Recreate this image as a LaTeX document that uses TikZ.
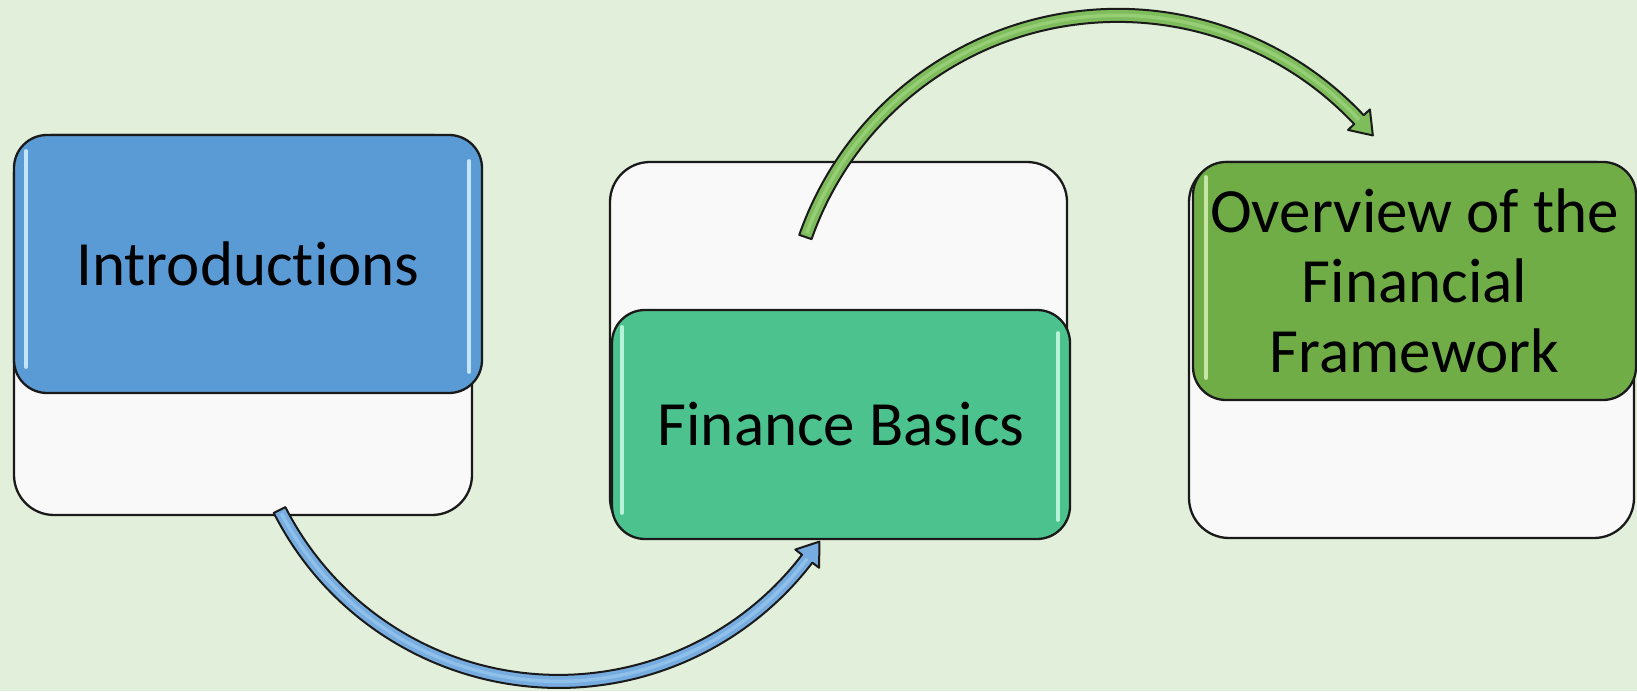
\documentclass[tikz,border=0pt]{standalone}
\usepackage{fontspec}
\setmainfont{Carlito}[Ligatures={NoCommon,NoContextual}]
\usetikzlibrary{calc}

\definecolor{bg}{HTML}{E2EFDA}
\definecolor{paper}{HTML}{F9F9F9}
\definecolor{outline}{HTML}{1A1A1A}
\definecolor{stepblue}{HTML}{5B9BD5}
\definecolor{stepteal}{HTML}{4CC38E}
\definecolor{stepgreen}{HTML}{70AD47}
\definecolor{glossblue}{HTML}{C4E4FA}
\definecolor{glossteal}{HTML}{B6F2D8}
\definecolor{glossgreen}{HTML}{C6E6A6}
\definecolor{arrowblue}{HTML}{76ACDF}
\definecolor{arrowbluehi}{HTML}{8FC0EA}
\definecolor{arrowgreen}{HTML}{7EBC5C}
\definecolor{arrowgreenhi}{HTML}{96CE76}

% Curved block arrow along a circle:
% #1 fill, #2 centre coordinate, #3 radius, #4 tail angle, #5 tip angle, #6 highlight colour
\newcommand\arcarrow[6]{%
  \pgfmathsetmacro\aaSgn{(#5>#4)?1:-1}
  \pgfmathsetmacro\aaBase{#5-\aaSgn*21/(#3)*180/pi}
  \pgfmathsetmacro\aaOut{#3+6.5}
  \pgfmathsetmacro\aaIn{#3-6.5}
  \pgfmathsetmacro\aaHo{#3+15}
  \pgfmathsetmacro\aaHi{#3-15}
  \pgfmathsetmacro\aaHlStart{#4+\aaSgn*0.7}
  \filldraw[arrowline, fill=#1]
    ($(#2)+(#4:\aaOut)$) arc[start angle=#4, end angle=\aaBase, radius=\aaOut]
    -- ($(#2)+(\aaBase:\aaHo)$) -- ($(#2)+(#5:#3)$) -- ($(#2)+(\aaBase:\aaHi)$)
    -- ($(#2)+(\aaBase:\aaIn)$) arc[start angle=\aaBase, end angle=#4, radius=\aaIn]
    -- cycle;
  \draw[#6, line width=3.5pt]
    ($(#2)+(\aaHlStart:#3)$) arc[start angle=\aaHlStart, end angle=\aaBase, radius=#3];
}

\begin{document}
\begin{tikzpicture}[x=1pt, y=1pt,
  backbox/.style={draw=outline, fill=paper, line width=2.3pt, rounded corners=40pt, inner sep=0pt},
  stepbox/.style={draw=outline, line width=2.3pt, rounded corners=33pt, inner sep=0pt,
    align=center, text=black, font=\fontsize{63}{70}\selectfont},
  gloss/.style={line width=3.4pt, line cap=round},
  arrowline/.style={draw=outline, line width=2pt, line join=round}]

  % canvas
  \fill[bg] (0,0) rectangle (1637,691);
  \useasboundingbox (0,0) rectangle (1637,691);
  \clip (0,0) rectangle (1637,691);

  % back panels
  \node[backbox, minimum width=458, minimum height=380] (introback) at (243,366) {};
  \node[backbox, minimum width=457, minimum height=376] (basicsback) at (838.5,341) {};
  \node[backbox, minimum width=445, minimum height=376] (overviewback) at (1411.5,341) {};

  % coloured step boxes
  \node[stepbox, fill=stepblue, minimum width=468, minimum height=258] (intro) at (248,427) {Introductions};
  \node[stepbox, fill=stepteal, minimum width=458, minimum height=229] (basics) at (841,266.5) {Finance Basics};
  \node[stepbox, fill=stepgreen, minimum width=443, minimum height=238] (overview) at (1414.5,410)
    {Overview of the\\Financial\\Framework};

  % glossy edge highlights
  \draw[gloss, glossblue] ($(intro.north west)+(13,-17)$) -- ($(intro.south west)+(13,27)$);
  \draw[gloss, glossblue] ($(intro.north east)+(-14,-27)$) -- ($(intro.south east)+(-14,22)$);
  \draw[gloss, glossteal] ($(basics.north west)+(11,-18)$) -- ($(basics.south west)+(11,27)$);
  \draw[gloss, glossteal] ($(basics.north east)+(-13,-24)$) -- ($(basics.south east)+(-13,20)$);
  \draw[gloss, glossgreen] ($(overview.north west)+(14,-16)$) -- ($(overview.south west)+(14,23)$);

  % curved arrows between the steps
  \coordinate (bluearc) at (558.7,322.6);
  \coordinate (greenarc) at (1117.8,344.6);
  \arcarrow{arrowblue}{bluearc}{313}{206.9}{326.4}{arrowbluehi}
  \arcarrow{arrowgreen}{greenarc}{331}{160.7}{39.6}{arrowgreenhi}
\end{tikzpicture}
\end{document}
